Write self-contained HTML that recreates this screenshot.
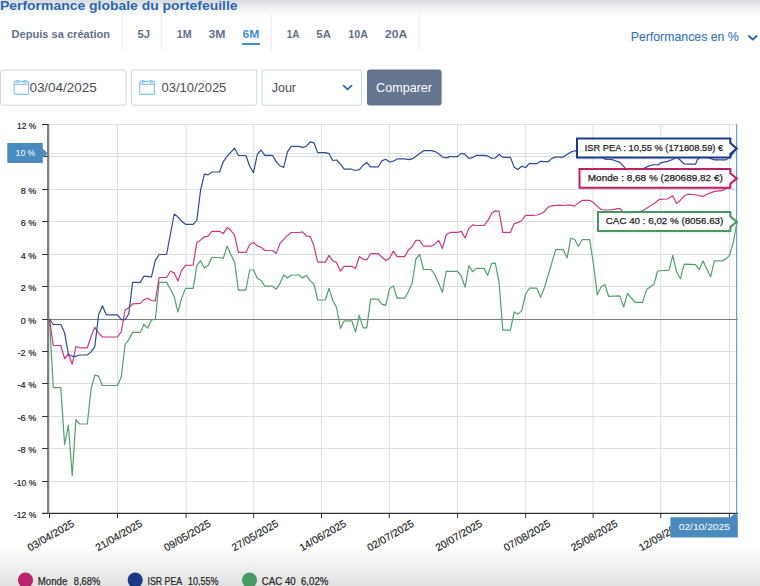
<!DOCTYPE html>
<html><head><meta charset="utf-8"><title>Performance globale du portefeuille</title>
<style>
html,body{margin:0;padding:0;background:#fff;}
body{width:760px;height:586px;overflow:hidden;position:relative;font-family:"Liberation Sans", Arial, sans-serif;}
svg{position:absolute;left:0;top:0;display:block;}
svg text{font-family:"Liberation Sans", Arial, sans-serif;}
</style></head><body>
<svg width="760" height="586" viewBox="0 0 760 586">
<defs>
<linearGradient id="gt" x1="0" y1="0" x2="0" y2="1"><stop offset="0" stop-color="#d9dade"/><stop offset="0.5" stop-color="#f1f2f3"/><stop offset="1" stop-color="#ffffff"/></linearGradient>
<linearGradient id="gb" x1="0" y1="0" x2="0" y2="1"><stop offset="0" stop-color="#ffffff"/><stop offset="1" stop-color="#e1e1e1"/></linearGradient>
<clipPath id="plot"><rect x="49" y="120" width="690" height="394"/></clipPath>
</defs>
<rect x="0" y="0" width="760" height="17" fill="url(#gt)"/>
<rect x="0" y="546" width="760" height="40" fill="url(#gb)"/>

<!-- title -->
<text x="0" y="9.9" font-size="13" font-weight="bold" fill="#2b67b0" textLength="237.6" lengthAdjust="spacingAndGlyphs">Performance globale du portefeuille</text>

<!-- filters -->
<g font-size="11.2" font-weight="bold" fill="#62718b">
<text x="11.6" y="38.3" textLength="98.4" lengthAdjust="spacingAndGlyphs">Depuis sa création</text>
<text x="137.5" y="38.3" textLength="12.6" lengthAdjust="spacingAndGlyphs">5J</text>
<text x="176.8" y="38.3" textLength="14.8" lengthAdjust="spacingAndGlyphs">1M</text>
<text x="208.4" y="38.3" textLength="16.9" lengthAdjust="spacingAndGlyphs">3M</text>
<text x="242.5" y="38.3" textLength="16.9" lengthAdjust="spacingAndGlyphs" fill="#3d8fd6">6M</text>
<text x="286.8" y="38.3" textLength="12.7" lengthAdjust="spacingAndGlyphs">1A</text>
<text x="316.3" y="38.3" textLength="14.7" lengthAdjust="spacingAndGlyphs">5A</text>
<text x="348.3" y="38.3" textLength="19.8" lengthAdjust="spacingAndGlyphs">10A</text>
<text x="385" y="38.3" textLength="22.3" lengthAdjust="spacingAndGlyphs">20A</text>
</g>
<rect x="242" y="43" width="18" height="2" fill="#3d8fd6"/>
<g stroke="#d3dae6" stroke-width="1" stroke-dasharray="1 1">
<path d="M122.2 15V51"/><path d="M161.7 15V51"/><path d="M271.4 15V51"/><path d="M418.8 15V51"/>
</g>
<text x="630.7" y="41.2" font-size="12.1" fill="#3473bb" stroke="#3473bb" stroke-width="0.1" textLength="108.1" lengthAdjust="spacingAndGlyphs">Performances en %</text>
<path d="M749 36L752.8 39.6L756.6 36" fill="none" stroke="#2362ab" stroke-width="1.8" stroke-linecap="round" stroke-linejoin="round"/>

<!-- inputs -->
<g fill="#fff" stroke="#cdd6e4" stroke-width="1">
<rect x="0.5" y="70" width="125.5" height="35.2" rx="2"/>
<rect x="131.5" y="70" width="125.3" height="35.2" rx="2"/>
<rect x="262" y="70" width="99.5" height="35.2" rx="2"/>
</g>
<g fill="none" stroke="#7cc2ea" stroke-width="1.1">
<rect x="14.2" y="81.4" width="14.3" height="13" rx="1.2"/><path d="M14.2 84.3H28.5"/>
<circle cx="17.8" cy="81.6" r="1.2" fill="#fff"/><circle cx="25" cy="81.6" r="1.2" fill="#fff"/>
<rect x="139.7" y="81.4" width="14.6" height="13" rx="1.2"/><path d="M139.7 84.3H154.3"/>
<circle cx="143" cy="81.6" r="1.2" fill="#fff"/><circle cx="151.2" cy="81.6" r="1.2" fill="#fff"/>
</g>
<g font-size="13" fill="#4b4e54">
<text x="29.4" y="91.8" textLength="67.4" lengthAdjust="spacingAndGlyphs">03/04/2025</text>
<text x="161.5" y="91.8" textLength="64.8" lengthAdjust="spacingAndGlyphs">03/10/2025</text>
<text x="271.7" y="92.2" textLength="24.3" lengthAdjust="spacingAndGlyphs">Jour</text>
</g>
<path d="M343.6 85.6L347.6 89.4L351.6 85.6" fill="none" stroke="#2b67ad" stroke-width="1.7" stroke-linecap="round" stroke-linejoin="round"/>
<rect x="367" y="69.6" width="74.6" height="36" rx="3" fill="#66758f"/>
<text x="376.1" y="91.7" font-size="13" fill="#fff" textLength="55.9" lengthAdjust="spacingAndGlyphs">Comparer</text>

<!-- chart grid -->
<g stroke="#dedede" stroke-width="1" fill="none">
<path d="M49 124.5H738" /><path d="M49 156.5H738" /><path d="M49 189.5H738" /><path d="M49 221.5H738" /><path d="M49 254.5H738" /><path d="M49 286.5H738" /><path d="M49 351.5H738" /><path d="M49 383.5H738" /><path d="M49 416.5H738" /><path d="M49 448.5H738" /><path d="M49 481.5H738" />
<path d="M49.5 124.5V513" /><path d="M117.5 124.5V513" /><path d="M186.1 124.5V513" /><path d="M253.7 124.5V513" /><path d="M321.5 124.5V513" /><path d="M389.3 124.5V513" /><path d="M457.6 124.5V513" /><path d="M525.7 124.5V513" /><path d="M593.1 124.5V513" /><path d="M660.7 124.5V513" /><path d="M729.4 124.5V513" />
</g>
<path d="M49 319.5H738" stroke="#7d7d7d" stroke-width="1" fill="none"/>
<path d="M49 153.5H737" stroke="#d6e5f3" stroke-width="1" fill="none"/>
<path d="M42 513.4H738" stroke="#333" stroke-width="1.3" fill="none"/>
<g stroke="#333" stroke-width="1" fill="none">
<path d="M49.5 513V518" /><path d="M117.5 513V518" /><path d="M186.1 513V518" /><path d="M253.7 513V518" /><path d="M321.5 513V518" /><path d="M389.3 513V518" /><path d="M457.6 513V518" /><path d="M525.7 513V518" /><path d="M593.1 513V518" /><path d="M660.7 513V518" /><path d="M729.4 513V518" />
</g>
<path d="M48 124V514" stroke="#808080" stroke-width="2" fill="none"/>
<g stroke="#333" stroke-width="1" fill="none">
<path d="M42 124.5H48.3" /><path d="M42 156.5H48.3" /><path d="M42 189.5H48.3" /><path d="M42 221.5H48.3" /><path d="M42 254.5H48.3" /><path d="M42 286.5H48.3" /><path d="M42 319.5H48.3" /><path d="M42 351.5H48.3" /><path d="M42 383.5H48.3" /><path d="M42 416.5H48.3" /><path d="M42 448.5H48.3" /><path d="M42 481.5H48.3" /><path d="M42 513.5H48.3" />
</g>

<!-- y labels -->
<g font-size="9.8" fill="#222" stroke="#222" stroke-width="0.2">
<text x="36.3" y="129.4" text-anchor="end" textLength="19.2" lengthAdjust="spacingAndGlyphs">12 %</text><text x="36.3" y="194.4" text-anchor="end" textLength="15.6" lengthAdjust="spacingAndGlyphs">8 %</text><text x="36.3" y="226.4" text-anchor="end" textLength="15.6" lengthAdjust="spacingAndGlyphs">6 %</text><text x="36.3" y="259.4" text-anchor="end" textLength="15.6" lengthAdjust="spacingAndGlyphs">4 %</text><text x="36.3" y="291.4" text-anchor="end" textLength="15.6" lengthAdjust="spacingAndGlyphs">2 %</text><text x="36.3" y="324.4" text-anchor="end" textLength="15.6" lengthAdjust="spacingAndGlyphs">0 %</text><text x="36.3" y="356.4" text-anchor="end" textLength="18.8" lengthAdjust="spacingAndGlyphs">-2 %</text><text x="36.3" y="388.4" text-anchor="end" textLength="18.8" lengthAdjust="spacingAndGlyphs">-4 %</text><text x="36.3" y="421.4" text-anchor="end" textLength="18.8" lengthAdjust="spacingAndGlyphs">-6 %</text><text x="36.3" y="453.4" text-anchor="end" textLength="18.8" lengthAdjust="spacingAndGlyphs">-8 %</text><text x="36.3" y="486.4" text-anchor="end" textLength="22.4" lengthAdjust="spacingAndGlyphs">-10 %</text><text x="36.3" y="518.4" text-anchor="end" textLength="22.4" lengthAdjust="spacingAndGlyphs">-12 %</text>
</g>
<!-- x labels -->
<g font-size="10.4" fill="#222" stroke="#222" stroke-width="0.15">
<text x="52.5" y="538.6" text-anchor="middle" textLength="52" lengthAdjust="spacingAndGlyphs" transform="rotate(-30 52.5 538.6)">03/04/2025</text><text x="120.5" y="538.6" text-anchor="middle" textLength="52" lengthAdjust="spacingAndGlyphs" transform="rotate(-30 120.5 538.6)">21/04/2025</text><text x="189.1" y="538.6" text-anchor="middle" textLength="52" lengthAdjust="spacingAndGlyphs" transform="rotate(-30 189.1 538.6)">09/05/2025</text><text x="256.7" y="538.6" text-anchor="middle" textLength="52" lengthAdjust="spacingAndGlyphs" transform="rotate(-30 256.7 538.6)">27/05/2025</text><text x="324.5" y="538.6" text-anchor="middle" textLength="52" lengthAdjust="spacingAndGlyphs" transform="rotate(-30 324.5 538.6)">14/06/2025</text><text x="392.3" y="538.6" text-anchor="middle" textLength="52" lengthAdjust="spacingAndGlyphs" transform="rotate(-30 392.3 538.6)">02/07/2025</text><text x="460.6" y="538.6" text-anchor="middle" textLength="52" lengthAdjust="spacingAndGlyphs" transform="rotate(-30 460.6 538.6)">20/07/2025</text><text x="528.7" y="538.6" text-anchor="middle" textLength="52" lengthAdjust="spacingAndGlyphs" transform="rotate(-30 528.7 538.6)">07/08/2025</text><text x="596.1" y="538.6" text-anchor="middle" textLength="52" lengthAdjust="spacingAndGlyphs" transform="rotate(-30 596.1 538.6)">25/08/2025</text><text x="663.7" y="538.6" text-anchor="middle" textLength="52" lengthAdjust="spacingAndGlyphs" transform="rotate(-30 663.7 538.6)">12/09/2025</text>
</g>

<!-- series -->
<g fill="none" stroke-width="1.2" stroke-linejoin="round" stroke-linecap="round" clip-path="url(#plot)">
<path d="M49.5 319.4L53.3 387.7L60.8 387.7L64.6 444.5L68.4 425.2L72.2 475.6L75.9 419.6L79.7 424.0L87.3 424.0L91.1 388.7L94.8 375.1L98.6 376.2L102.4 385.5L117.5 385.5L121.3 376.7L125.1 344.5L128.8 339.6L132.6 332.4L140.2 332.4L143.9 324.2L147.7 328.2L151.5 319.9L155.3 319.5L159.1 282.4L166.6 282.4L170.4 289.3L174.2 296.6L177.9 312.1L181.7 297.9L185.5 288.4L193.1 288.4L196.8 265.7L200.6 260.7L204.4 268.0L208.2 265.3L211.9 257.5L219.5 257.5L223.3 258.3L227.1 246.1L230.8 254.6L234.6 261.8L238.4 290.1L245.9 290.1L249.7 270.0L253.5 270.0L257.3 278.3L261.1 280.5L264.8 286.2L272.4 286.2L276.2 289.2L279.9 283.6L283.7 275.0L287.5 278.0L291.3 275.0L298.8 275.0L302.6 277.9L306.4 275.3L310.2 280.9L313.9 284.0L317.7 300.0L325.3 300.0L329.1 288.3L332.8 300.8L336.6 307.4L340.4 328.4L344.2 320.8L351.7 320.8L355.5 332.1L359.3 315.3L363.1 327.8L366.8 327.8L370.6 299.2L378.2 299.2L381.9 304.1L385.7 305.4L389.5 288.9L393.3 285.9L397.1 298.2L404.6 298.2L408.4 291.6L412.2 283.0L415.9 259.0L419.7 254.3L423.5 269.5L431.1 269.5L434.8 274.7L438.6 283.0L442.4 292.5L446.2 271.4L457.5 271.4L461.3 276.0L465.1 287.2L468.8 265.5L472.6 271.8L476.4 268.4L483.9 268.4L487.7 275.4L491.5 263.6L495.3 263.2L499.1 282.6L502.8 330.2L510.4 330.2L514.2 311.9L517.9 314.1L521.7 310.9L525.5 294.5L529.3 288.2L536.8 288.2L540.6 297.3L544.4 287.9L548.2 275.0L551.9 262.5L555.7 249.7L563.3 249.7L567.1 257.9L570.8 238.2L574.6 239.5L578.4 246.3L582.2 239.7L589.7 239.7L593.5 264.5L597.3 295.0L601.1 287.0L604.8 284.4L608.6 296.3L619.9 295.9L623.7 307.0L627.5 293.5L635.1 302.3L642.6 302.3L646.4 289.8L653.9 284.3L657.7 271.0L669.1 270.1L672.8 255.4L676.6 272.0L680.4 278.8L684.2 264.2L695.5 264.6L699.3 269.6L703.1 260.9L710.6 276.9L714.4 260.9L721.9 260.9L725.7 259.1L729.5 255.4L733.3 242.5L737.1 221.7" stroke="#50a16e"/>
<path d="M49.5 319.4L53.3 345.5L60.8 345.5L64.6 358.7L68.4 354.0L72.2 364.3L75.9 346.6L79.7 347.8L87.3 347.8L91.1 336.5L94.8 327.3L98.6 332.8L102.4 337.0L117.5 337.0L121.3 331.7L125.1 310.0L128.8 307.8L132.6 303.8L140.2 303.4L143.9 299.9L147.7 298.2L151.5 300.5L155.3 300.8L159.1 277.5L166.6 277.5L170.4 271.2L174.2 272.9L177.9 281.1L181.7 270.3L185.5 265.3L193.1 265.1L196.8 242.8L200.6 240.1L204.4 236.8L208.2 236.2L211.9 231.3L219.5 231.3L223.3 233.6L227.1 227.6L230.8 230.3L234.6 235.5L238.4 252.4L245.9 252.4L249.7 244.7L253.5 242.4L257.3 245.9L261.1 247.2L264.8 250.5L272.4 250.5L276.2 253.4L279.9 243.7L283.7 239.3L287.5 235.4L291.3 232.5L298.8 232.5L302.6 231.8L306.4 236.1L310.2 236.3L313.9 245.9L317.7 262.1L325.3 262.1L329.1 255.4L332.8 260.8L336.6 262.6L340.4 271.2L344.2 266.3L351.7 266.3L355.5 268.5L359.3 256.6L363.1 259.2L366.8 260.0L370.6 253.7L378.2 253.7L381.9 257.0L385.7 260.5L389.5 258.3L393.3 251.1L397.1 256.6L404.6 256.6L408.4 250.0L412.2 246.8L415.9 240.3L419.7 240.3L423.5 246.2L431.1 246.2L434.8 244.2L438.6 240.3L442.4 248.4L446.2 235.0L449.9 232.4L457.5 232.4L461.3 231.4L465.1 238.0L468.8 228.4L472.6 224.9L476.4 225.5L483.9 225.5L487.7 220.9L491.5 213.4L495.3 210.8L499.1 211.3L502.8 232.4L510.4 232.4L514.2 223.6L517.9 222.6L521.7 220.5L525.5 215.3L533.1 215.3L536.8 215.0L540.6 213.7L544.4 211.7L548.2 207.1L551.9 205.8L559.5 205.1L563.3 205.5L567.1 205.1L570.8 205.1L574.6 206.1L578.4 202.9L582.2 200.3L589.7 200.3L593.5 202.5L597.3 206.4L601.1 209.5L604.8 210.0L608.6 210.0L612.4 209.7L619.9 208.4L623.7 213.2L627.5 214.0L635.1 212.4L642.6 210.8L650.2 206.1L653.9 203.7L659.5 199.3L667.4 199.0L672.8 195.8L676.6 203.4L680.4 200.2L684.2 195.8L687.9 194.2L697.4 195.0L703.1 196.6L706.8 194.2L710.6 192.9L714.4 191.4L721.9 190.7L725.7 188.7L729.5 184.7L737.1 178.4" stroke="#cb3884"/>
<path d="M49.5 319.4L53.3 324.5L60.8 324.5L64.6 332.8L68.4 354.5L72.2 356.3L75.9 356.3L79.7 355.0L87.3 355.0L91.1 351.9L94.8 346.6L98.6 314.8L102.4 305.8L106.2 314.8L117.5 314.8L121.3 319.6L125.1 319.6L128.8 313.7L132.6 282.4L140.2 282.4L143.9 276.2L151.5 276.8L155.3 260.4L159.1 254.5L166.6 254.5L174.2 214.0L177.9 216.8L181.7 221.3L185.5 224.3L193.1 224.3L196.8 220.4L200.6 190.0L204.4 174.2L208.2 174.9L211.9 172.0L219.5 172.0L223.3 161.7L227.1 156.4L234.6 148.2L238.4 155.5L245.9 155.5L249.7 166.3L253.5 172.6L257.3 154.3L261.1 150.0L264.8 155.3L272.4 155.3L276.2 161.6L279.9 165.8L283.7 167.5L287.5 151.7L291.3 146.4L298.8 146.4L302.6 147.4L306.4 146.2L310.2 141.8L313.9 142.8L317.7 152.6L325.3 152.6L329.1 153.7L332.8 160.5L336.6 160.0L340.4 164.2L344.2 169.2L351.7 169.2L355.5 170.5L359.3 169.7L363.1 165.3L366.8 162.5L370.6 166.8L378.2 166.8L381.9 160.9L385.7 159.2L389.5 162.0L393.3 161.2L397.1 158.9L404.6 158.9L408.4 159.7L412.2 158.9L415.9 156.3L419.7 153.4L423.5 150.7L431.1 150.7L434.8 151.3L438.6 153.7L442.4 157.0L446.2 157.9L449.9 156.6L457.5 156.6L461.3 153.4L465.1 154.3L468.8 158.3L472.6 157.6L476.4 155.3L483.9 155.3L487.7 155.9L491.5 158.3L495.3 158.0L499.1 154.3L502.8 157.4L510.4 157.4L514.2 167.2L517.9 169.5L521.7 166.2L525.5 167.5L529.3 163.6L536.8 163.6L540.6 161.3L544.4 161.7L548.2 161.7L551.9 158.4L555.7 157.1L563.3 157.1L567.1 154.5L570.8 152.1L574.6 150.8L582.2 151.2L589.7 151.0L593.5 150.5L597.3 151.8L601.1 155.8L604.8 159.1L608.6 159.5L612.4 159.7L619.9 162.4L623.7 166.3L627.5 171.6L631.3 172.2L635.1 169.6L642.6 169.0L648.4 166.1L653.9 164.5L657.7 165.0L661.5 162.6L667.4 161.4L672.8 159.5L676.6 157.1L680.4 160.3L684.2 164.0L687.9 164.2L695.5 164.2L697.4 159.8L699.3 157.9L703.1 156.5L706.8 157.0L710.6 158.5L714.4 159.9L725.7 159.9L729.5 157.0L733.3 153.0L737.1 148.2" stroke="#2c4c98"/>
</g>

<!-- crosshair -->
<path d="M736.6 124.5V513" stroke="#6a9fcc" stroke-width="1.2" fill="none"/>

<!-- 10% label -->
<path d="M7.3 143H42.8V148.8L47.8 153.4L42.8 157.9V162.9H7.3Z" fill="#4a8abf"/>
<text x="15.6" y="155.7" font-size="9.9" fill="#fff" textLength="19.6" lengthAdjust="spacingAndGlyphs">10 %</text>

<!-- date label -->
<path d="M670.4 517.2H730.5Q733 514 736 513.2Q737.8 514 737.8 517.5V537.6H670.4Z" fill="#4a8abf"/>
<text x="678.7" y="530.2" font-size="9.3" fill="#fff" textLength="51.2" lengthAdjust="spacingAndGlyphs">02/10/2025</text>

<!-- tooltips -->
<g stroke-width="3" fill="none" stroke="rgba(0,0,0,0.06)" transform="translate(1 1)">
<path d="M577 138.5H730.3V143L736.6 148.4L730.3 154V157.6H577Z"/>
<path d="M579.5 169H730.3V173.3L736.6 178.5L730.3 183.8V187.7H579.5Z"/>
<path d="M598 212H730.3V216.3L736.6 221.7L730.3 226.9V230.9H598Z"/>
</g>
<g stroke-width="2" fill="rgba(255,255,255,0.86)">
<path d="M577 138.5H730.3V143L736.6 148.4L730.3 154V157.6H577Z" stroke="#1a3b8c"/>
<path d="M579.5 169H730.3V173.3L736.6 178.5L730.3 183.8V187.7H579.5Z" stroke="#c21d6a"/>
<path d="M598 212H730.3V216.3L736.6 221.7L730.3 226.9V230.9H598Z" stroke="#47995f"/>
</g>
<g font-size="9.9" fill="#1e1e1e" stroke="#1e1e1e" stroke-width="0.25">
<text x="584.7" y="150.8" textLength="138.5" lengthAdjust="spacingAndGlyphs">ISR PEA : 10,55 % (171808.59) €</text>
<text x="587.8" y="180.7" textLength="135" lengthAdjust="spacingAndGlyphs">Monde : 8,68 % (280689.82 €)</text>
<text x="605.8" y="224" textLength="117.5" lengthAdjust="spacingAndGlyphs">CAC 40 : 6,02 % (8056.63)</text>
</g>

<!-- legend -->
<circle cx="25.5" cy="580.1" r="7.6" fill="#b8246e"/>
<circle cx="135.2" cy="580.1" r="7.6" fill="#1b3a85"/>
<circle cx="249.5" cy="580.1" r="7.6" fill="#4a9a66"/>
<g font-size="10.2" fill="#222" stroke="#222" stroke-width="0.2">
<text x="37.7" y="585.2" textLength="29.6" lengthAdjust="spacingAndGlyphs">Monde</text>
<text x="73.8" y="585.2" textLength="26.5" lengthAdjust="spacingAndGlyphs">8,68%</text>
<text x="147.5" y="585.2" textLength="34.7" lengthAdjust="spacingAndGlyphs">ISR PEA</text>
<text x="188" y="585.2" textLength="30.4" lengthAdjust="spacingAndGlyphs">10,55%</text>
<text x="261.8" y="585.2" textLength="33.9" lengthAdjust="spacingAndGlyphs">CAC 40</text>
<text x="301" y="585.2" textLength="27.4" lengthAdjust="spacingAndGlyphs">6,02%</text>
</g>
</svg>
</body></html>
